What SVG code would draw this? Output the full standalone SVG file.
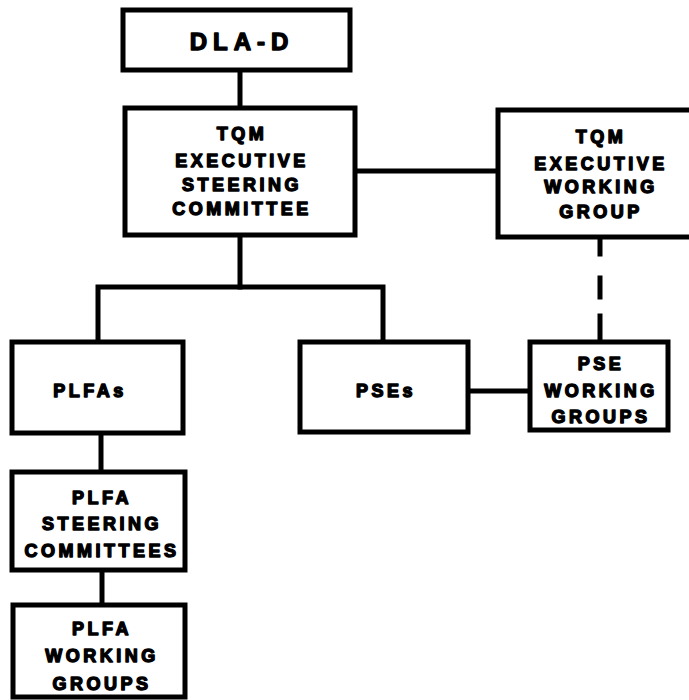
<svg xmlns="http://www.w3.org/2000/svg" width="689" height="700" viewBox="0 0 689 700">
<style>
.box{fill:#fff;stroke:#000;stroke-width:5}
.c{stroke:#000;stroke-width:5;fill:none;stroke-linecap:square}
text{font-family:"Liberation Sans",Arial,sans-serif;font-weight:bold;font-size:18px;letter-spacing:3.5px;text-anchor:middle;fill:#000;stroke:#000;stroke-width:1.4px;stroke-linejoin:round}
.big{font-size:24px;letter-spacing:6px}
</style>
<rect width="689" height="700" fill="#fff"/>
<g id="connectors">
<line class="c" x1="240" y1="70" x2="240" y2="108"/>
<line class="c" x1="355" y1="171" x2="498" y2="171"/>
<polyline class="c" points="240,235 240,287"/>
<polyline class="c" points="98,342 98,287 383,287 383,342"/>
<line class="c" x1="468" y1="391" x2="530" y2="391"/>
<line class="c" x1="101" y1="433" x2="101" y2="472"/>
<line class="c" x1="102" y1="570" x2="102" y2="605"/>
<line class="c" x1="600" y1="237" x2="600" y2="254"/>
<line class="c" x1="600" y1="278" x2="600" y2="297"/>
<line class="c" x1="600" y1="316" x2="600" y2="342"/>
</g>
<g id="dla-d">
<rect class="box" x="123" y="10" width="227" height="60"/>
<text class="big" x="242" y="50">DLA-D</text>
</g>
<g id="tqm-esc">
<rect class="box" x="125" y="108" width="230" height="127"/>
<text x="242" y="140">TQM</text>
<text x="242" y="167">EXECUTIVE</text>
<text x="242" y="191">STEERING</text>
<text x="242" y="215">COMMITTEE</text>
</g>
<g id="tqm-ewg">
<rect class="box" x="498" y="110" width="200" height="127"/>
<text x="601" y="143">TQM</text>
<text x="601" y="170">EXECUTIVE</text>
<text x="601" y="193">WORKING</text>
<text x="601" y="218">GROUP</text>
</g>
<g id="plfas">
<rect class="box" x="12" y="342" width="171" height="91"/>
<text x="90" y="397">PLFAs</text>
</g>
<g id="pses">
<rect class="box" x="300" y="342" width="168" height="90"/>
<text x="386" y="397">PSEs</text>
</g>
<g id="pse-wg">
<rect class="box" x="530" y="342" width="138" height="88"/>
<text x="601" y="370">PSE</text>
<text x="601" y="397">WORKING</text>
<text x="601" y="423">GROUPS</text>
</g>
<g id="plfa-sc">
<rect class="box" x="12" y="472" width="173" height="98"/>
<text x="102" y="504">PLFA</text>
<text x="102" y="530">STEERING</text>
<text x="102" y="557">COMMITTEES</text>
</g>
<g id="plfa-wg">
<rect class="box" x="13" y="605" width="172" height="92"/>
<text x="102" y="635">PLFA</text>
<text x="102" y="662">WORKING</text>
<text x="102" y="690">GROUPS</text>
</g>
</svg>
